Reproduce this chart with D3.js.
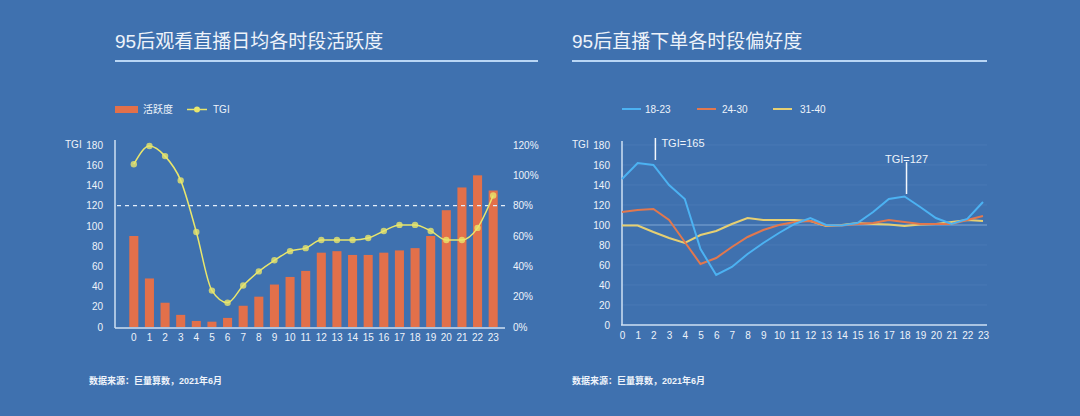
<!DOCTYPE html>
<html><head><meta charset="utf-8">
<script src="https://cdn.jsdelivr.net/npm/d3@7"></script>
<style>
html,body{margin:0;padding:0;background:#3f71af;}
svg{display:block;font-family:"Liberation Sans","Noto Sans CJK SC",sans-serif;}
</style></head>
<body>
<svg id="c" width="1080" height="416"></svg>
<script>
// ---- data ----
const hours = d3.range(0,24).map(String);
const activity = [60,32,16,8,4,3.5,6,14,20,28,33,37,49,50,47.5,47.5,49,50.5,52,60,77,92,100,90]; // %
const tgi = [161,179,169,145,94,36,24,41,55,66,75,78,86,86,86,88,95,101,101,95,86,86,98,130];
const tgiTicks = [0,20,40,60,80,100,120,140,160,180];
const pctTicks = [0,20,40,60,80,100,120];
const ageGroups = ["18-23","24-30","31-40"];
const pref1823 = [146,162,160,140,126,76,50,58,71,82,92,101,107,100,99.5,102,113,126,128.5,118,107,101,106,123];
const pref2430 = [113,115,116,105,83,61,67,78,88,95,100,103,104,99.5,99.5,101,102,105,103,101,101,101,105,109];
const pref3140 = [99.5,99.5,93,87,82,90,94,101,107,105,105,105,104,99,100,102,101,100.5,99,100.5,101,103,105,104];
const benchmarkTGI = 120;
const annotations = [{hour:2, label:"TGI=165", value:165},{hour:18, label:"TGI=127", value:127}];
const titles = ["95后观看直播日均各时段活跃度","95后直播下单各时段偏好度"];
const source = "数据来源：巨量算数，2021年6月";

const txt = "#eef3fa", axisCol = "#cfe0f3";
const barCol = "#e2704a", lineCol = "#e9e66c";
const seriesCols = ["#4cb2f2","#e2784e","#e6cf72"];
const svg = d3.select("#c");

// titles
[[115,538],[572,987]].forEach(([x0,x1],i)=>{
  svg.append("text").attr("x",x0).attr("y",48).attr("fill",txt).attr("font-size",19)
    .text(titles[i]);
  svg.append("line").attr("x1",x0).attr("x2",x1).attr("y1",61).attr("y2",61)
    .attr("stroke","#b9d6f5").attr("stroke-width",2);
  svg.append("text").attr("x",x0===115?89:572).attr("y",384).attr("fill",txt)
    .attr("font-size",9).attr("font-weight",600).text(source);
});

// ---- left chart ----
const L = svg.append("g");
const x = d3.scaleBand().domain(hours).range([126,501]).paddingInner(0.42).paddingOuter(0.21);
const yL = d3.scaleLinear().domain([0,180]).range([327,145]);
const yR = d3.scaleLinear().domain([0,120]).range([327,145]);

// legend
L.append("rect").attr("x",115).attr("y",106).attr("width",23).attr("height",7).attr("fill",barCol);
L.append("text").attr("x",143).attr("y",113).attr("fill",txt).attr("font-size",10).text("活跃度");
L.append("line").attr("x1",187).attr("x2",207).attr("y1",109.5).attr("y2",109.5).attr("stroke",lineCol).attr("stroke-width",1.5);
L.append("circle").attr("cx",197).attr("cy",109.5).attr("r",3).attr("fill",lineCol);
L.append("text").attr("x",213).attr("y",113).attr("fill",txt).attr("font-size",10).text("TGI");

// bars
L.selectAll("rect.bar").data(activity).join("rect").attr("class","bar")
  .attr("x",(d,i)=>x(hours[i])).attr("width",x.bandwidth())
  .attr("y",d=>yR(d)).attr("height",d=>yR(0)-yR(d)).attr("fill",barCol);

// benchmark dashed
L.append("line").attr("x1",117).attr("x2",507).attr("y1",yL(benchmarkTGI)).attr("y2",yL(benchmarkTGI))
  .attr("stroke","#e4eefa").attr("stroke-width",1.3).attr("stroke-dasharray","4,4");

// axes
const axL = d3.axisLeft(yL).tickValues(tgiTicks).tickSize(0).tickPadding(12);
const gAL = L.append("g").attr("transform","translate(115,0)").call(axL);
gAL.select(".domain").attr("d","M0,140V328").attr("stroke",axisCol).attr("stroke-width",1.5);
gAL.selectAll("text").attr("fill",txt).attr("font-size",10).attr("font-family",null);
const axR = d3.axisRight(yR).tickValues(pctTicks).tickFormat(d=>d+"%").tickSize(0).tickPadding(0);
const gAR = L.append("g").attr("transform","translate(513,0)").call(axR);
gAR.select(".domain").remove();
gAR.selectAll("text").attr("fill",txt).attr("font-size",10).attr("font-family",null);
const axB = d3.axisBottom(x).tickSize(0).tickPadding(6);
const gAB = L.append("g").attr("transform","translate(0,328)").call(axB);
gAB.select(".domain").attr("d","M115,0H505").attr("stroke",axisCol).attr("stroke-width",1.5);
gAB.selectAll("text").attr("fill",txt).attr("font-size",10).attr("font-family",null);
L.append("text").attr("x",65).attr("y",148).attr("fill",txt).attr("font-size",10).text("TGI");

// TGI line
const cx = i=>x(hours[i])+x.bandwidth()/2;
L.append("path").datum(tgi).attr("fill","none").attr("stroke",lineCol).attr("stroke-width",1.5)
  .attr("d",d3.line().x((d,i)=>cx(i)).y(d=>yL(d)).curve(d3.curveMonotoneX));
L.selectAll("circle.pt").data(tgi).join("circle").attr("class","pt")
  .attr("cx",(d,i)=>cx(i)).attr("cy",d=>yL(d)).attr("r",3.2)
  .attr("fill",lineCol).attr("fill-opacity",0.8);

// ---- right chart ----
const R = svg.append("g");
const xp = d3.scalePoint().domain(hours).range([622,983]);
const yp = d3.scaleLinear().domain([0,180]).range([325,145]);
// grid
R.selectAll("line.grid").data(tgiTicks.filter(t=>t>0)).join("line").attr("class","grid")
  .attr("x1",622).attr("x2",987).attr("y1",d=>yp(d)).attr("y2",d=>yp(d))
  .attr("stroke",d=>d===100?"#80a7d6":"#4c7bb8").attr("stroke-width",d=>d===100?1.1:0.8);
const ayp = d3.axisLeft(yp).tickValues(tgiTicks).tickSize(0).tickPadding(12);
const gy = R.append("g").attr("transform","translate(622,0)").call(ayp);
gy.select(".domain").attr("d","M0,141V325").attr("stroke",axisCol).attr("stroke-width",1.5);
gy.selectAll("text").attr("fill",txt).attr("font-size",10).attr("font-family",null);
const axp = d3.axisBottom(xp).tickSize(0).tickPadding(7);
const gx = R.append("g").attr("transform","translate(0,325)").call(axp);
gx.select(".domain").attr("d","M621,0H987").attr("stroke",axisCol).attr("stroke-width",1.5);
gx.selectAll("text").attr("fill",txt).attr("font-size",10).attr("font-family",null);
R.append("text").attr("x",572).attr("y",148).attr("fill",txt).attr("font-size",10).text("TGI");

// legend
[[622,645],[697,722],[773,800]].forEach(([lx,tx],i)=>{
  R.append("line").attr("x1",lx).attr("x2",lx+19).attr("y1",109).attr("y2",109)
    .attr("stroke",seriesCols[i]).attr("stroke-width",2);
  R.append("text").attr("x",tx).attr("y",112.5).attr("fill",txt).attr("font-size",10).text(ageGroups[i]);
});
const ln = d3.line().x((d,i)=>xp(hours[i])).y(d=>yp(d));
[pref3140,pref2430,pref1823].forEach((s,k)=>{
  const i = 2-k;
  R.append("path").datum(s).attr("fill","none").attr("stroke",seriesCols[i])
    .attr("stroke-width",2).attr("d",ln);
});
// annotations
const a0 = annotations[0];
R.append("line").attr("x1",xp(String(a0.hour))+2).attr("x2",xp(String(a0.hour))+2)
  .attr("y1",yp(a0.value)).attr("y2",yp(a0.value)-22).attr("stroke","#f3f7fc").attr("stroke-width",1.5);
R.append("text").attr("x",xp(String(a0.hour))+8).attr("y",yp(a0.value)-13).attr("fill",txt)
  .attr("font-size",11).text(a0.label);
const a1 = annotations[1];
const ax1 = xp(String(a1.hour))+2;
R.append("line").attr("x1",ax1).attr("x2",ax1).attr("y1",yp(a1.value)-4).attr("y2",yp(a1.value)-36)
  .attr("stroke","#f3f7fc").attr("stroke-width",1.5);
R.append("text").attr("x",ax1).attr("y",yp(a1.value)-35).attr("text-anchor","middle").attr("fill",txt)
  .attr("font-size",11).text(a1.label);
</script>
</body></html>
